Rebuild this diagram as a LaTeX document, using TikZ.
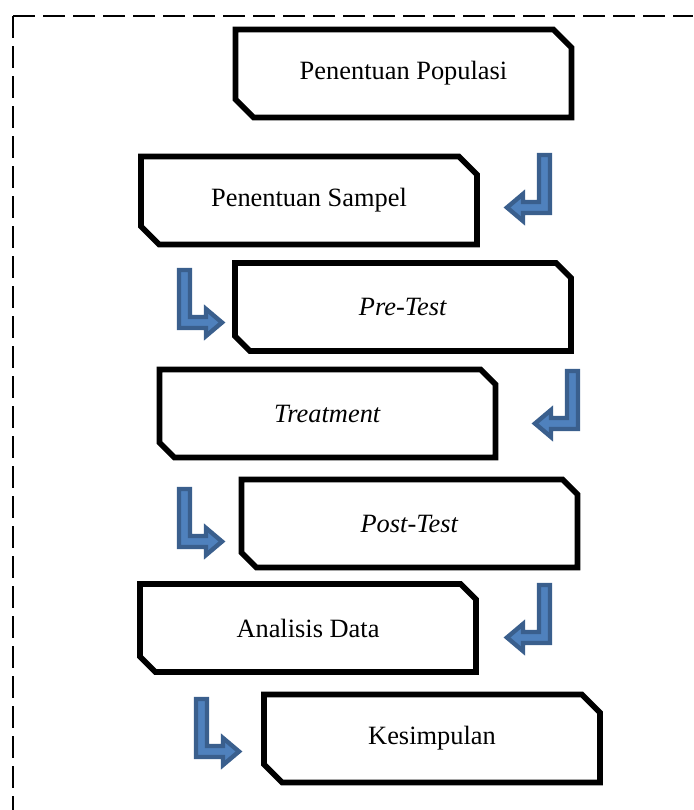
\documentclass[tikz,border=0pt]{standalone}
\usepackage{fontspec}
\setmainfont{Liberation Serif}
\usepackage{tikz}
\usetikzlibrary{shapes.misc}
\definecolor{arrowfill}{HTML}{4F81BD}
\definecolor{arrowline}{HTML}{3A5F8D}

\begin{document}
\begin{tikzpicture}
[x = 0.5pt, y = -0.5pt, % pixel grid, y grows downward
line join = miter,
stepbox/.style = {chamfered rectangle, % cut corners
  chamfered rectangle corners = {north east, south west},
  chamfered rectangle xsep = 8.5pt, draw, line width = 2.8pt,
  minimum width = 168pt, minimum height = 44pt, inner sep = 0pt,
  font = \fontsize{13.2}{16}\selectfont},
bent/.style = {fill = arrowfill, draw = arrowline, line width = 2.2pt},
turnleft/.pic = {\path[bent] (-2,2) -- (-2,60) -- (-29,60) -- (-29,68) -- (-45,54.5)
  -- (-29,41) -- (-29,49) -- (-13,49) -- (-13,2) -- cycle;},
turnright/.pic = {\path[bent] (2,2) -- (2,60) -- (29,60) -- (29,68) -- (45,54.5)
  -- (29,41) -- (29,49) -- (13,49) -- (13,2) -- cycle;}]
\useasboundingbox (0,0) rectangle (693,810);
% dashed frame, open to the right and bottom
\draw[line width = 1pt, dash pattern = on 11pt off 4pt] (13,16) -- (693,16);
\draw[line width = 1pt, dash pattern = on 11pt off 4pt] (13,16) -- (13,810);
\node[stepbox] (n1) at (403.5,73.5) {Penentuan Populasi};
\node[stepbox] (n2) at (309,200.5) {Penentuan Sampel};
\node[stepbox] (n3) at (403,307) {\textit{Pre-Test}};
\node[stepbox] (n4) at (327.5,413.5) {\textit{Treatment}};
\node[stepbox] (n5) at (409.5,523.5) {\textit{Post-Test}};
\node[stepbox] (n6) at (308,628) {Analisis Data};
\node[stepbox] (n7) at (432,738.5) {Kesimpulan};
\pic at (552,153) {turnleft};
\pic at (177,268) {turnright};
\pic at (580,369) {turnleft};
\pic at (177,487) {turnright};
\pic at (552,583) {turnleft};
\pic at (194,697) {turnright};
\end{tikzpicture}
\end{document}
